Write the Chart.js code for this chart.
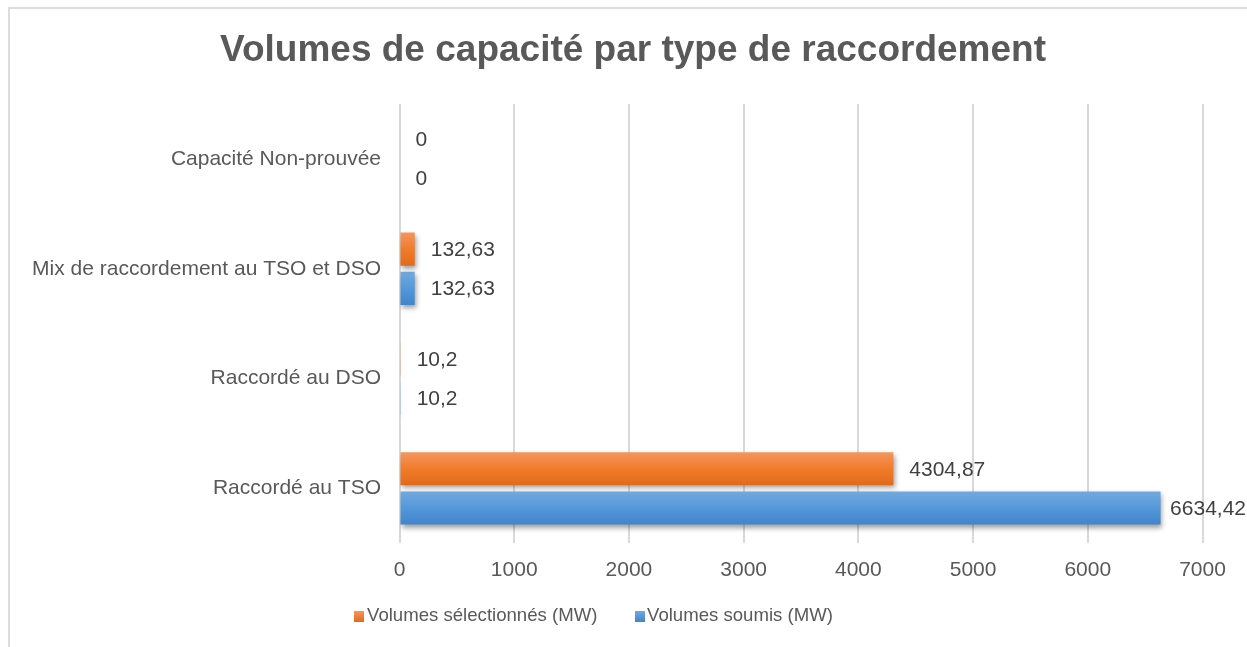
<!DOCTYPE html>
<html><head><meta charset="utf-8">
<script src="https://cdn.jsdelivr.net/npm/chart.js@4/dist/chart.umd.min.js"></script>
<style>
html,body{margin:0;padding:0;background:#fff;width:1247px;height:647px;overflow:hidden;font-family:"Liberation Sans",Arial,sans-serif;}
#frame{position:absolute;left:8px;top:7px;width:1300px;height:700px;border-left:2px solid #dcdcdc;border-top:2px solid #dcdcdc;}
#wrap{position:absolute;left:0;top:0;width:1247px;height:647px;}
.legtxt{position:absolute;top:603px;font-size:18.6px;color:#595959;line-height:24px;white-space:nowrap;}
.sw{position:absolute;width:10px;height:11px;top:611px;}
</style></head><body>
<div id="frame"></div>
<div id="wrap"><canvas id="c" width="1247" height="647"></canvas></div>
<div id="legend"></div>
<script>
const categories = ['Capacité Non-prouvée', 'Mix de raccordement au TSO et DSO', 'Raccordé au DSO', 'Raccordé au TSO'];
const seriesNames = ['Volumes sélectionnés (MW)', 'Volumes soumis (MW)'];
const selectedValues = [0, 132.63, 10.2, 4304.87];
const submittedValues = [0, 132.63, 10.2, 6634.42];
const xTickValues = [0, 1000, 2000, 3000, 4000, 5000, 6000, 7000];
const chartTitle = 'Volumes de capacité par type de raccordement';

const FONT = '"Liberation Sans", Arial, sans-serif';
const seriesColors = ['#ef7d2e', '#5698d8'];
const seriesStops = [
  [[0, '#f4965e'], [0.5, '#f07c2b'], [1, '#e2691b']],
  [[0, '#72a9de'], [0.5, '#5498da'], [1, '#4184cb']]
];
const legendPos = [{box: 354, text: 367}, {box: 635, text: 647}];

// HTML legend
const lg = document.getElementById('legend');
seriesNames.forEach((n, i) => {
  const sw = document.createElement('div');
  sw.className = 'sw';
  sw.style.left = legendPos[i].box + 'px';
  sw.style.background = 'linear-gradient(' + seriesStops[i][0][1] + ',' + seriesStops[i][2][1] + ')';
  lg.appendChild(sw);
  const t = document.createElement('div');
  t.className = 'legtxt';
  t.style.left = legendPos[i].text + 'px';
  t.textContent = n;
  lg.appendChild(t);
});

Chart.defaults.font.family = FONT;

const fmt = v => String(v).replace('.', ',');

const titleDraw = {
  id: 'titleDraw',
  afterDraw(chart) {
    const ctx = chart.ctx;
    ctx.save();
    ctx.font = 'bold 37px ' + FONT;
    ctx.fillStyle = '#595959';
    ctx.textAlign = 'center';
    ctx.textBaseline = 'middle';
    ctx.fillText(chartTitle, 633, 50.5);
    ctx.restore();
  }
};

const barDeco = {
  id: 'barDeco',
  beforeDatasetsDraw(chart) {
    const ctx = chart.ctx;
    chart.data.datasets.forEach((ds, i) => {
      const meta = chart.getDatasetMeta(i);
      meta.data.forEach(el => {
        const top = el.y - el.height / 2, bot = el.y + el.height / 2;
        const g = ctx.createLinearGradient(0, top, 0, bot);
        seriesStops[i].forEach(s => g.addColorStop(s[0], s[1]));
        el.options.backgroundColor = g;
      });
    });
    ctx.save();
    ctx.shadowColor = 'rgba(0,0,0,0.38)';
    ctx.shadowBlur = 5;
    ctx.shadowOffsetX = 1.5;
    ctx.shadowOffsetY = 3;
  },
  afterDatasetsDraw(chart) {
    const ctx = chart.ctx;
    ctx.restore();
    ctx.save();
    ctx.font = '21px ' + FONT;
    ctx.fillStyle = '#404040';
    ctx.textBaseline = 'middle';
    ctx.textAlign = 'left';
    chart.data.datasets.forEach((ds, i) => {
      const meta = chart.getDatasetMeta(i);
      meta.data.forEach((el, j) => {
        const txt = fmt(ds.data[j]);
        const w = ctx.measureText(txt).width;
        let x = el.x + 16;
        if (x + w > chart.width - 1) x = chart.width - 1 - w;
        ctx.fillText(txt, x, el.y + 1);
      });
    });
    ctx.restore();
  }
};

new Chart(document.getElementById('c'), {
  type: 'bar',
  data: {
    labels: categories,
    datasets: [
      {label: seriesNames[0], data: selectedValues, backgroundColor: () => seriesColors[0], borderWidth: 0, barPercentage: 0.846, categoryPercentage: 0.714},
      {label: seriesNames[1], data: submittedValues, backgroundColor: () => seriesColors[1], borderWidth: 0, barPercentage: 0.846, categoryPercentage: 0.714}
    ]
  },
  options: {
    indexAxis: 'y',
    responsive: false,
    animation: false,
    devicePixelRatio: 1,
    layout: {padding: {left: 0, right: 44.5, top: 104, bottom: 49.5}},
    plugins: {
      legend: {display: false},
      tooltip: {enabled: false},
      title: {display: false}
    },
    scales: {
      x: {
        min: 0, max: 7000,
        afterBuildTicks: s => { s.ticks = xTickValues.map(v => ({value: v})); },
        ticks: {color: '#595959', font: {size: 21}, padding: 14.5, maxRotation: 0, callback: v => String(v)},
        grid: {color: '#d9d9d9', lineWidth: 2, drawTicks: false},
        border: {display: false}
      },
      y: {
        grid: {display: false, drawTicks: false},
        border: {display: false},
        ticks: {color: '#595959', font: {size: 21}, padding: 18.5},
        afterFit: s => { s.width = 399.5; }
      }
    }
  },
  plugins: [barDeco, titleDraw]
});
</script>
</body></html>
